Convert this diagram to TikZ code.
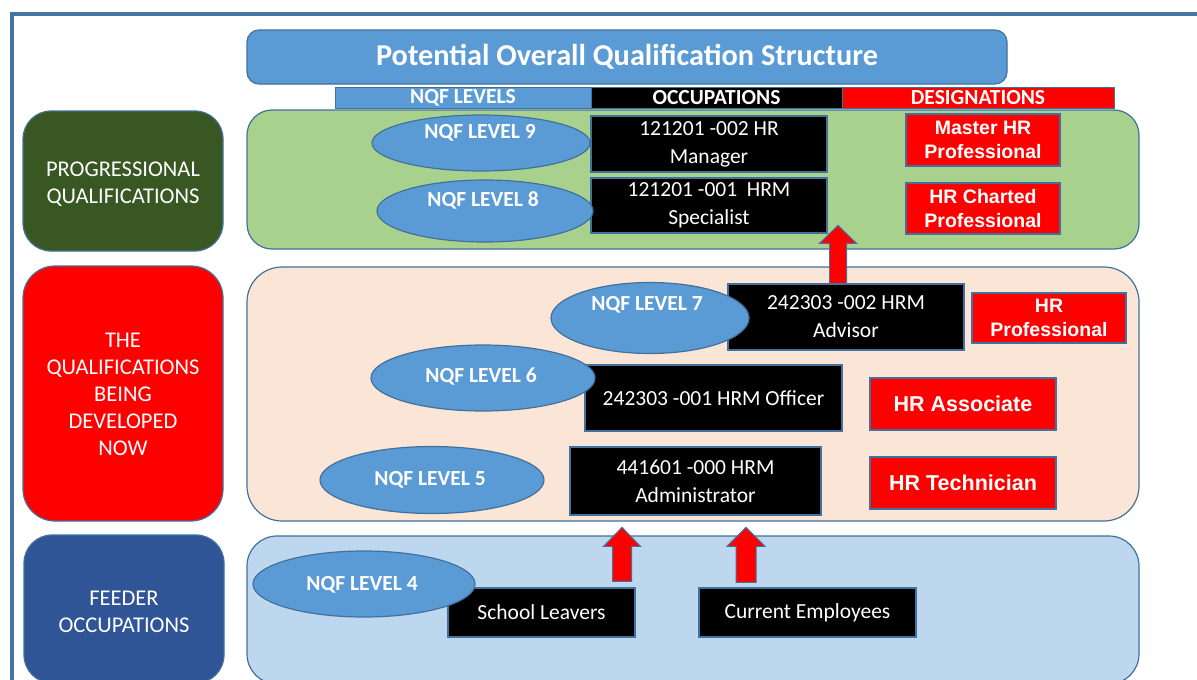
\documentclass[tikz,border=0pt]{standalone}
\usepackage{fontspec}
\setmainfont{Carlito}
\newfontfamily\arialfont{Liberation Sans}
\usetikzlibrary{shapes.geometric,calc}

\definecolor{edge}{RGB}{65,113,156}
\definecolor{frameblue}{RGB}{70,116,161}
\definecolor{midblue}{RGB}{91,155,213}
\definecolor{darkgreen}{RGB}{56,87,35}
\definecolor{feederblue}{RGB}{47,85,151}
\definecolor{panelgreen}{RGB}{169,209,142}
\definecolor{panelpeach}{RGB}{251,229,214}
\definecolor{panelblue}{RGB}{189,215,238}

% block arrow: #1 base, #2 tip, #3 shaft half width, #4 head half width, #5 head length
\newcommand\blockarrow[5]{%
  \draw[barrow] ($(#1)+(-#3,0)$) -- ($(#2)+(-#3,#5)$) -- ($(#2)+(-#4,#5)$) -- (#2)
    -- ($(#2)+(#4,#5)$) -- ($(#2)+(#3,#5)$) -- ($(#1)+(#3,0)$) -- cycle;}

\begin{document}
\begin{tikzpicture}[x=1pt,y=-1pt,
  titlebox/.style={rounded corners=12pt, fill=midblue, draw=edge, line width=1.2pt,
    minimum width=760pt, minimum height=54pt, inner sep=0pt, text=white,
    font=\bfseries\fontsize{30.3}{36}\selectfont},
  hdr/.style={draw=edge, line width=1pt, minimum height=21pt, inner sep=0pt, text=white,
    font=\bfseries\fontsize{21.5}{24}\selectfont},
  side/.style={rounded corners=28pt, draw=edge, line width=1.2pt, minimum width=200pt,
    inner sep=0pt, text=white, align=center, font=\fontsize{22.5}{27}\selectfont},
  sidetext/.style={text=white, inner sep=0pt, align=center, font=\fontsize{22.5}{27}\selectfont},
  panel/.style={draw=edge, line width=1.2pt},
  occ/.style={fill=black, draw=edge, line width=1.2pt, inner sep=0pt, text=white,
    align=center, font=\fontsize{21.5}{28}\selectfont},
  desig/.style={fill=red, draw=edge, line width=1.2pt, inner sep=0pt, text=white,
    align=center, font=\arialfont\bfseries\fontsize{19.5}{24}\selectfont},
  desigbig/.style={desig, font=\arialfont\bfseries\fontsize{21.5}{26}\selectfont},
  level/.style={ellipse, fill=midblue, draw=edge, line width=1.2pt, inner sep=0pt},
  leveltext/.style={text=white, inner sep=0pt, font=\bfseries\fontsize{21.5}{26}\selectfont},
  barrow/.style={fill=red, draw=edge, line width=1pt, line join=miter}]

\useasboundingbox (0,0) rectangle (1197,680);
\clip (0,0) rectangle (1197,680);
\fill[white] (0,0) rectangle (1197,680);

% outer frame (top and left edges)
\draw[frameblue, line width=4.6pt] (12,690) -- (12,14) -- (1205,14);

% title and column headers
\node[titlebox] (title) at (627,57) {Potential Overall Qualification Structure};
\node[hdr, fill=midblue, minimum width=256pt] (hlev) at (463,98) {NQF LEVELS};
\node[hdr, fill=black, minimum width=251pt] (hocc) at (716.5,98) {OCCUPATIONS};
\node[hdr, fill=red, minimum width=272pt] (hdes) at (978,98) {DESIGNATIONS};

% row labels
\node[side, fill=darkgreen, minimum height=140pt] (sprog) at (123,181) {};
\node[sidetext] (sprogt) at ($(sprog)+(0,3)$) {PROGRESSIONAL\\QUALIFICATIONS};
\node[side, fill=red, minimum height=255pt, rounded corners=32pt] (snow) at (123,393.5) {};
\node[sidetext] (snowt) at ($(snow)+(0,1)$) {THE\\QUALIFICATIONS\\BEING\\DEVELOPED\\NOW};
\node[side, fill=feederblue, minimum height=148pt] (sfeed) at (124,609) {};
\node[sidetext] (sfeedt) at ($(sfeed)+(0,3)$) {FEEDER\\OCCUPATIONS};

% row panels
\draw[panel, fill=panelgreen, rounded corners=25pt] (247,110) rectangle (1139,249);
\draw[panel, fill=panelpeach, rounded corners=35pt] (247,267) rectangle (1139,521);
\draw[panel, fill=panelblue, rounded corners=30pt] (247,536) rectangle (1139,684);

% occupations
\node[occ, minimum width=236pt, minimum height=56pt] (mgr) at (709,144) {121201 -002 HR\\Manager};
\node[occ, minimum width=236pt, minimum height=55pt] (spec) at (709,205.5) {121201 -001~ HRM\\Specialist};
\node[occ, minimum width=236pt, minimum height=66pt] (adv) at (846,317) {242303 -002 HRM\\Advisor};
\node[occ, minimum width=257pt, minimum height=66pt] (off) at (713.5,398) {242303 -001 HRM Officer};
\node[occ, minimum width=251pt, minimum height=68pt] (adm) at (695.5,481) {441601 -000 HRM\\Administrator};
\node[occ, minimum width=187pt, minimum height=49pt] (sl) at (541.5,612.5) {School Leavers};
\node[occ, minimum width=217pt, minimum height=49pt] (ce) at (807.5,612.5) {Current Employees};

% designations
\node[desig, minimum width=154pt, minimum height=52pt] (dmaster) at (983,140) {Master HR\\Professional};
\node[desig, minimum width=154pt, minimum height=51pt] (dcharted) at (983,208.5) {HR Charted\\Professional};
\node[desig, minimum width=154pt, minimum height=50pt] (dprof) at (1049,318) {HR\\Professional};
\node[desigbig, minimum width=186pt, minimum height=52pt] (dassoc) at (963,404) {HR Associate};
\node[desigbig, minimum width=186pt, minimum height=52pt] (dtech) at (963,483) {HR Technician};

% NQF levels
\node[level, minimum width=218pt, minimum height=56pt] (l9) at (481,143) {};
\node[level, minimum width=216pt, minimum height=62pt] (l8) at (485,211) {};
\node[level, minimum width=198pt, minimum height=71pt] (l7) at (650,318) {};
\node[level, minimum width=224pt, minimum height=66pt] (l6) at (483,378) {};
\node[level, minimum width=224pt, minimum height=67pt] (l5) at (432,480) {};
\node[level, minimum width=222pt, minimum height=66pt] (l4) at (364,584) {};
\node[leveltext] (l9t) at ($(l9)+(-1,-10)$) {NQF LEVEL 9};
\node[leveltext] (l8t) at ($(l8)+(-2,-11)$) {NQF LEVEL 8};
\node[leveltext] (l7t) at ($(l7)+(-3,-13)$) {NQF LEVEL 7};
\node[leveltext] (l6t) at ($(l6)+(-2,-1)$) {NQF LEVEL 6};
\node[leveltext] (l5t) at ($(l5)+(-2,0)$) {NQF LEVEL 5};
\node[leveltext] (l4t) at ($(l4)+(-2,1)$) {NQF LEVEL 4};

% progression arrows
\coordinate (aBase) at ($(adv.north)+(-8,0)$);
\coordinate (aTip) at ($(aBase)+(0,-58)$);
\blockarrow{aBase}{aTip}{8.5}{18.5}{18}
\coordinate (bBase) at ($(sl.north)+(80.5,-6)$);
\coordinate (bTip) at ($(bBase)+(0,-54)$);
\blockarrow{bBase}{bTip}{9.5}{18.5}{19}
\coordinate (cBase) at ($(ce.north)+(-61.5,-5)$);
\coordinate (cTip) at ($(cBase)+(0,-55)$);
\blockarrow{cBase}{cTip}{10}{19}{19}
\end{tikzpicture}
\end{document}
